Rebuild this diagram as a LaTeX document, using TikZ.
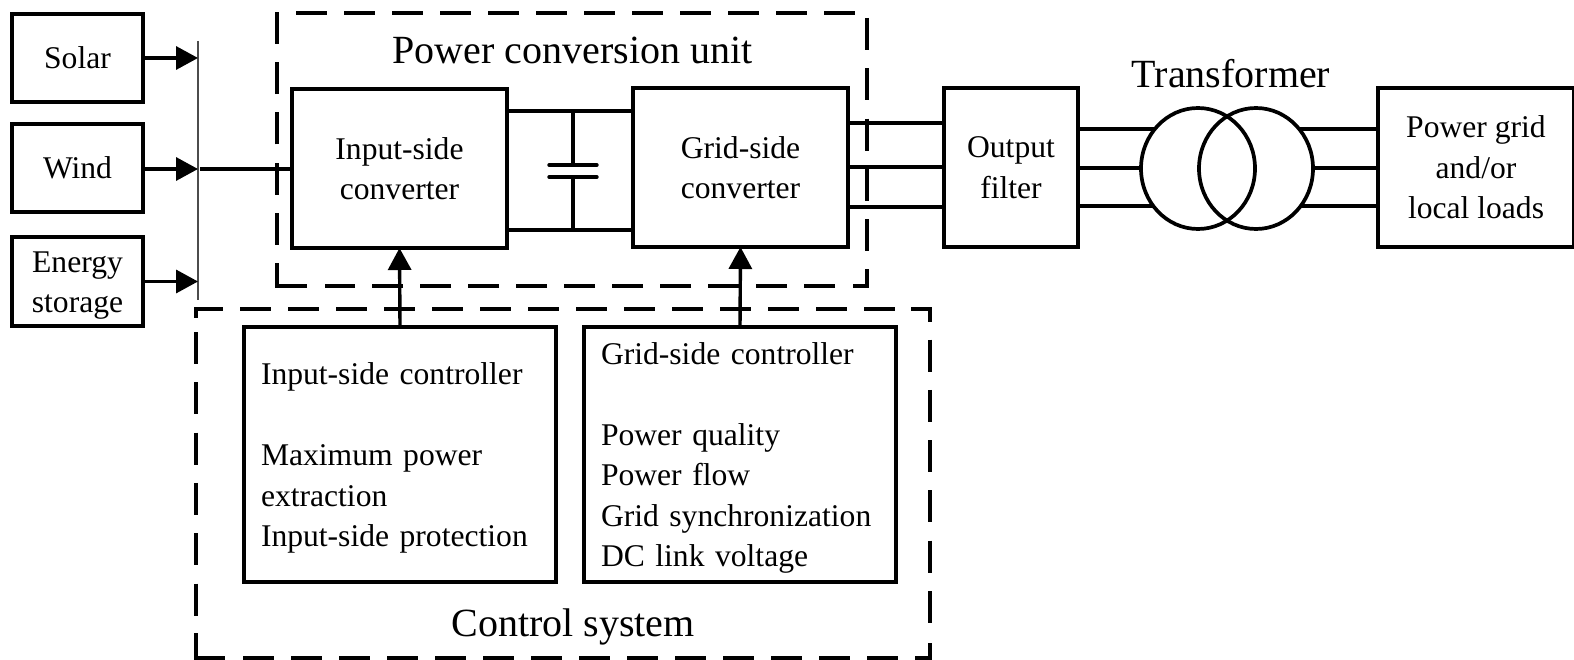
\documentclass[tikz,border=0pt]{standalone}
\usepackage{fontspec}
\setmainfont{Liberation Serif}
\usetikzlibrary{arrows.meta}
\tikzset{
  x=1pt,y=-1pt,
  blockbox/.style={draw=black,line width=3.7pt,inner sep=0pt,outer sep=0pt,align=center,font=\fontsize{31.6}{40.5}\selectfont,anchor=north west,line join=miter},
  listbox/.style={blockbox,align=left},
  wire/.style={line width=3.4pt},
  feed/.style={line width=3.4pt,-{Triangle[length=22pt,width=23pt]}},
  bigtext/.style={font=\fontsize{40}{48}\selectfont,inner sep=0pt,anchor=base},
  dashv/.style={line width=3.4pt,dash pattern=on 32pt off 18.3pt},
  dashh/.style={line width=3.4pt,dash pattern=on 31pt off 17pt},
  dashs/.style={line width=3.4pt},
}
\newcommand{\blk}[6]{\node[blockbox,minimum width=#4pt-#2pt,minimum height=#5pt-#3pt] (#1) at (#2,#3) {#6};}
\begin{document}
\begin{tikzpicture}
\useasboundingbox (0,0) rectangle (1574,660);
% source blocks
\blk{solar}{12}{14}{143}{102}{Solar}
\blk{wind}{12}{124}{143}{212}{Wind}
\blk{storage}{12}{237}{143}{326}{\rule{0pt}{29pt}Energy\\storage}
% converters
\blk{inconv}{292}{89}{507}{248}{Input-side\\converter}
\blk{gridconv}{633}{88}{848}{247}{Grid-side\\converter}
\blk{filter}{944}{88}{1078}{247}{Output\\filter}
\blk{grid}{1378}{88}{1574}{247}{Power grid\\and/or\\local loads}
% controllers
\node[listbox,minimum height=255pt,text width=278pt,inner xsep=17pt] (inctl) at (244,327)
  {\rule{0pt}{29pt}Input-side controller\\[40.5pt]Maximum power\\extraction\\Input-side protection};
\node[listbox,minimum height=255pt,text width=278pt,inner xsep=17pt] (gridctl) at (584,327)
  {\rule{0pt}{29pt}Grid-side controller\\[40.5pt]Power quality\\Power flow\\Grid synchronization\\DC link voltage};
% bus
\coordinate (bustop) at (198,41);
\coordinate (busbot) at (198,300);
\draw[line width=2.5pt,draw=black!70] (bustop) -- (busbot);
\draw[feed] (solar.east) -- (solar.east -| bustop);
\draw[feed] (wind.east |- 0,169) coordinate (w) -- (w -| bustop);
\draw[feed] (storage.east) -- (storage.east -| bustop);
\draw[wire] (200,169) coordinate (b) -- (b -| inconv.west);
% DC link
\coordinate (cu) at (573,165);
\coordinate (cl) at (573,177);
\coordinate (dct) at (573,111);
\coordinate (dcb) at (573,230);
\draw[wire] (dct -| inconv.east) -- (dct -| gridconv.west);
\draw[wire] (dcb -| inconv.east) -- (dcb -| gridconv.west);
\draw[wire] (dct) -- (cu);
\draw[wire] (dcb) -- (cl);
\draw[wire,line cap=round] (549,165) -- (597,165);
\draw[wire,line cap=round] (549,177) -- (597,177);
% three-phase to filter
\foreach \y in {123,167,207}{
  \draw[wire] (gridconv.east |- 0,\y) -- (filter.west |- 0,\y);
}
% transformer
\coordinate (tl) at (1198,168.5);
\coordinate (tr) at (1256,168.5);
\draw[wire] (filter.east |- 0,129) -- (1155,129);
\draw[wire] (filter.east |- 0,168) -- (1141,168);
\draw[wire] (filter.east |- 0,206) -- (1153,206);
\draw[wire] (1299,129) -- (grid.west |- 0,129);
\draw[wire] (1313,168) -- (grid.west |- 0,168);
\draw[wire] (1301,206) -- (grid.west |- 0,206);
\draw[line width=3.7pt] (tl) ellipse [x radius=57pt,y radius=60.5pt];
\draw[line width=3.7pt] (tr) ellipse [x radius=57pt,y radius=60.5pt];
% feedback arrows
\draw[feed] (inctl.north) -- (inconv.south);
\draw[feed] (gridctl.north) -- (gridconv.south);
% titles
\node[bigtext] (pcu) at (572.5,63.5) {Power conversion unit};
\node[bigtext] (tf) at (1231,88) {Transformer};
\node[bigtext] (cs) at (573,636) {Control system};
% power conversion unit dashed frame
\draw[dashh] (296,13) -- (857,13);
\draw[dashv] (867,18) -- (867,286) -- (853,286);
\draw[dashh] (835,286) -- (325,286);
\draw[dashs] (307,286) -- (277,286) -- (277,263);
\draw[dashv] (277,245) -- (277,11);
% control system dashed frame
\draw[dashs] (196,318) -- (196,309) -- (223,309);
\draw[dashh] (240,309) -- (896,309);
\draw[dashs] (911,309) -- (930,309) -- (930,322);
\draw[dashv] (930,339.5) -- (930,625);
\draw[dashs] (930,643) -- (930,658) -- (915,658);
\draw[dashv] (196,332) -- (196,616);
\draw[dashs] (196,633) -- (196,658) -- (225,658);
\draw[dashh] (243,658) -- (898,658);
\end{tikzpicture}
\end{document}
